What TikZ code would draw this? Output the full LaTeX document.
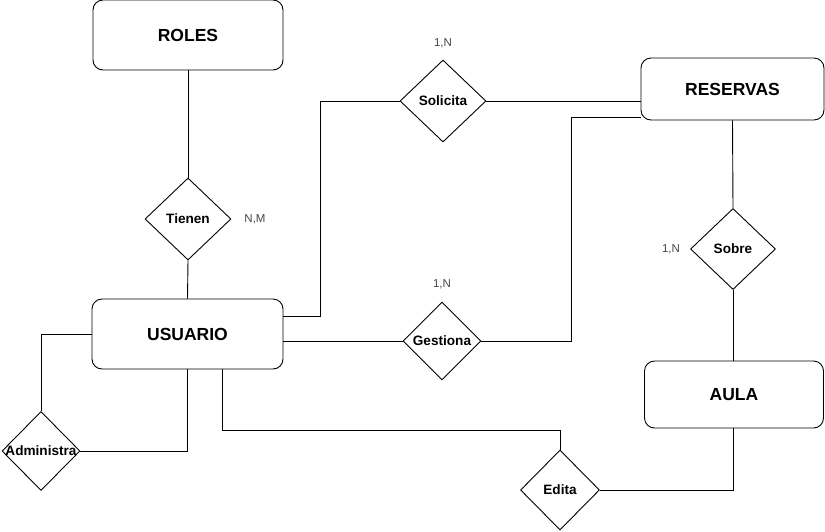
\documentclass[tikz,border=0pt]{standalone}
\usepackage{fontspec}
\setmainfont{Liberation Sans}
\usetikzlibrary{shapes.geometric}
\definecolor{lblgray}{HTML}{444444}
\tikzset{
  entity/.style={draw, rounded corners=10pt, inner sep=0pt, line width=0.9pt,
    font=\fontsize{17.5}{20}\selectfont\bfseries},
  rel/.style={draw, diamond, inner sep=0pt, line width=0.9pt},
  reltext/.style={font=\fontsize{13.6}{15}\selectfont\bfseries},
  card/.style={font=\fontsize{11.5}{13}\selectfont, text=lblgray, inner sep=0pt},
  conn/.style={line width=0.9pt}
}
\begin{document}
\begin{tikzpicture}[x=1pt,y=-1pt]
\useasboundingbox (0,0) rectangle (825,531);
% entities
\node[entity, minimum width=190pt, minimum height=70pt] (roles) at (188,35) {ROLES};
\node[entity, minimum width=191pt, minimum height=70pt] (usuario) at (187.5,334) {USUARIO};
\node[entity, minimum width=183pt, minimum height=62pt] (reservas) at (732.5,89) {RESERVAS};
\node[entity, minimum width=179pt, minimum height=67pt] (aula) at (734,394.5) {AULA};
% relationships
\node[rel, minimum width=86pt, minimum height=82pt, label={[reltext]center:Tienen}] (tienen) at (188,219) {};
\node[rel, minimum width=86pt, minimum height=82pt, label={[reltext]center:Solicita}] (solicita) at (443,101) {};
\node[rel, minimum width=78pt, minimum height=78pt, label={[reltext]center:Gestiona}] (gestiona) at (442,341) {};
\node[rel, minimum width=85pt, minimum height=81pt, label={[reltext]center:Sobre}] (sobre) at (733,249) {};
\node[rel, minimum width=78pt, minimum height=79pt, label={[reltext]center:Administra}] (administra) at (41,451) {};
\node[rel, minimum width=79pt, minimum height=80pt, label={[reltext]center:Edita}] (edita) at (560,490) {};
% cardinalities
\node[card] (c1) at (443,43) {1,N};
\node[card] (c2) at (255,219) {N,M};
\node[card] (c3) at (442,284) {1,N};
\node[card] (c4) at (671,249) {1,N};
% bend points
\coordinate (s1) at (320,316);
\coordinate (s2) at (320,101);
\coordinate (g1) at (571,117);
\coordinate (e1) at (560,430);
% connectors
\draw[conn] (roles.south) -- (tienen.north);
\draw[conn] (tienen.south) -- (usuario.north);
\draw[conn] (usuario.east |- s1) -- (s1) -- (s2) -- (solicita.west);
\draw[conn] (solicita.east) -- (reservas.west |- solicita.east);
\draw[conn] (usuario.east |- gestiona.west) -- (gestiona.west);
\draw[conn] (gestiona.east) -| (g1) -- (reservas.west |- g1);
\draw[conn] (reservas.south) -- (sobre.north);
\draw[conn] (sobre.south) -- (aula.north -| sobre.south);
\draw[conn] (usuario.west) -| (administra.north);
\draw[conn] (administra.east) -| (usuario.south);
\draw[conn] ([xshift=35pt]usuario.south) |- (e1) -- (edita.north);
\draw[conn] (edita.east) -| (aula.south -| sobre.south);
\end{tikzpicture}
\end{document}
